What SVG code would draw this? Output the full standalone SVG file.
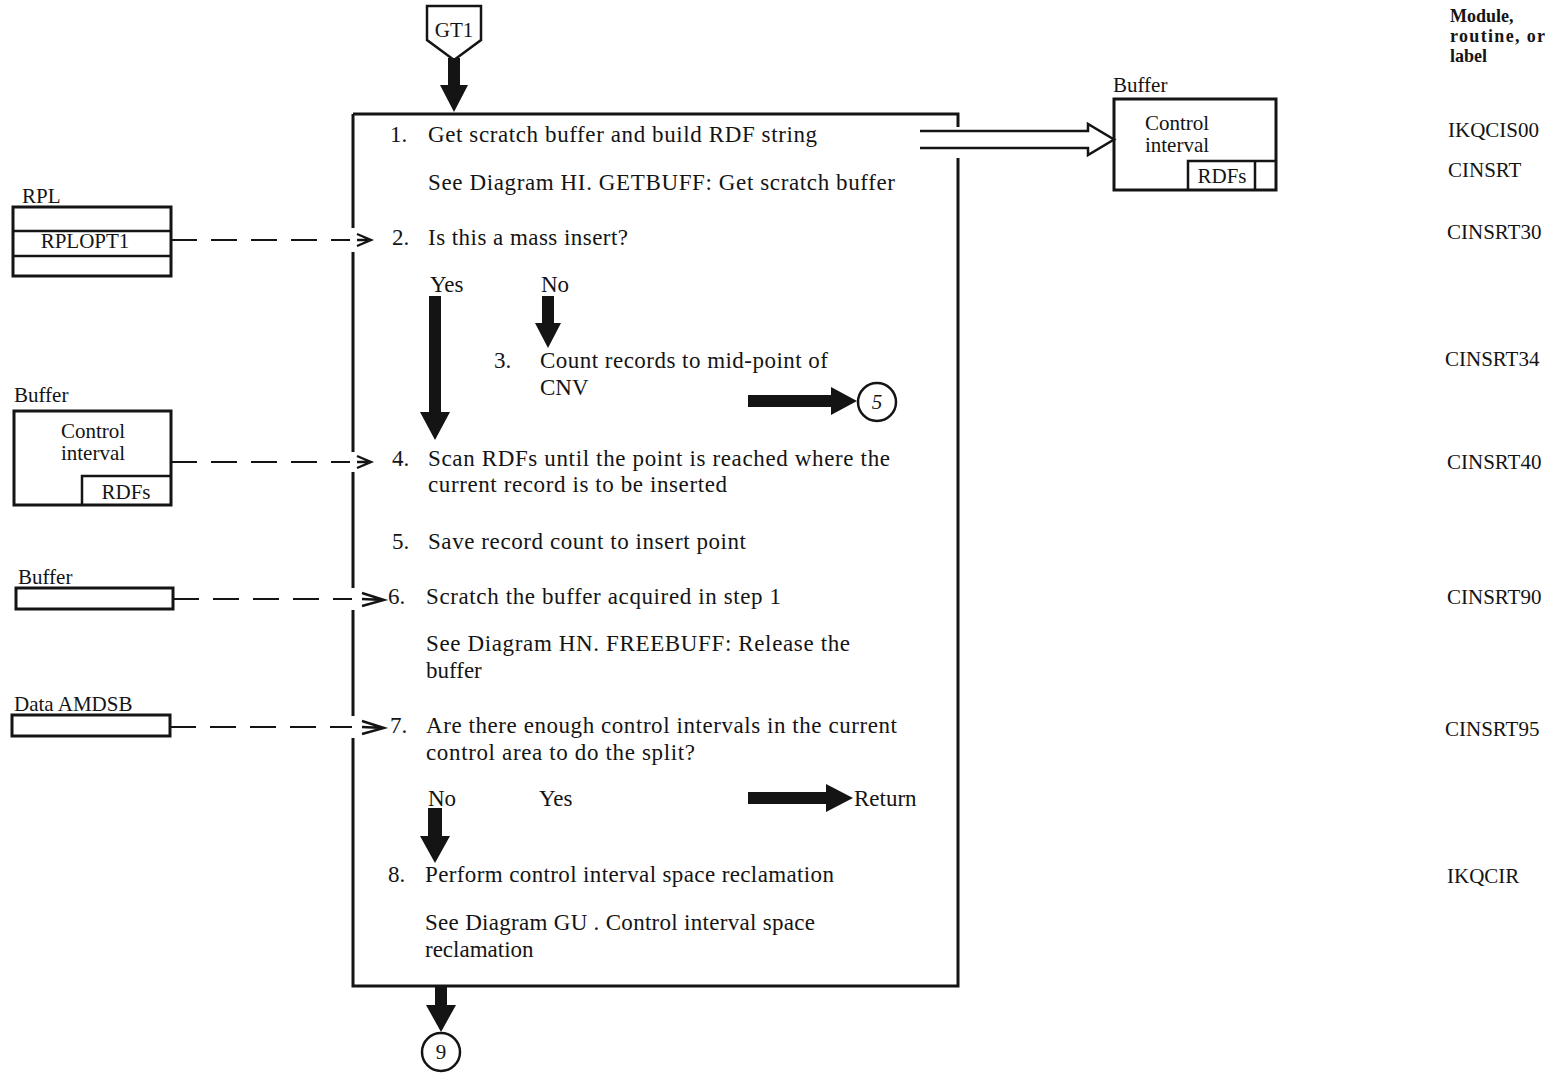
<svg xmlns="http://www.w3.org/2000/svg" width="1566" height="1073" viewBox="0 0 1566 1073">
  <style>
    .t{font-family:"Liberation Serif","Times New Roman",serif;font-size:23px;fill:#141414}
    .r{font-family:"Liberation Serif","Times New Roman",serif;font-size:21px;fill:#141414}
    .s{font-family:"Liberation Serif","Times New Roman",serif;font-size:21px;fill:#141414}
    .h{font-family:"Liberation Serif","Times New Roman",serif;font-size:18px;font-weight:bold;fill:#141414}
    .ln{fill:none;stroke:#141414;stroke-width:2.5}
    .bx{fill:none;stroke:#141414;stroke-width:3}
    .dash{fill:none;stroke:#141414;stroke-width:2;stroke-dasharray:26 14}
    .chev{fill:none;stroke:#141414;stroke-width:2.4;stroke-linejoin:miter}
    .fat{fill:#141414}
  </style>
  <rect width="1566" height="1073" fill="#ffffff"/>

  <!-- column heading -->
  <g id="heading">
    <text class="h" x="1450" y="22">Module,</text>
    <text class="h" x="1450" y="42" textLength="95" lengthAdjust="spacing">routine, or</text>
    <text class="h" x="1450" y="62">label</text>
  </g>

  <!-- module / label column -->
  <g id="labels" class="r">
    <text x="1448" y="137">IKQCIS00</text>
    <text x="1448" y="177">CINSRT</text>
    <text x="1447" y="239">CINSRT30</text>
    <text x="1445" y="366">CINSRT34</text>
    <text x="1447" y="469">CINSRT40</text>
    <text x="1447" y="604">CINSRT90</text>
    <text x="1445" y="736">CINSRT95</text>
    <text x="1447" y="883">IKQCIR</text>
  </g>

  <!-- entry connector GT1 -->
  <g id="gt1">
    <polygon class="ln" points="427,6 481,6 481,40 454,60 427,40"/>
    <text class="r" x="454" y="37" text-anchor="middle">GT1</text>
  </g>

  <!-- main process box -->
  <g id="process">
    <path class="bx" d="M353,114 H958 V127 M958,158 V986 H353 V738 M353,716 V610 M353,588 V472 M353,452 V252 M353,228 V114"/>
    <g class="t">
      <text x="390" y="142">1.</text>
      <text x="428" y="142" textLength="389" lengthAdjust="spacing">Get scratch buffer and build RDF string</text>
      <text x="428" y="190" textLength="467" lengthAdjust="spacing">See Diagram HI. GETBUFF: Get scratch buffer</text>
      <text x="392" y="245">2.</text>
      <text x="428" y="245" textLength="200" lengthAdjust="spacing">Is this a mass insert?</text>
      <text x="430" y="292">Yes</text>
      <text x="541" y="292">No</text>
      <text x="494" y="368">3.</text>
      <text x="540" y="368" textLength="288" lengthAdjust="spacing">Count records to mid-point of</text>
      <text x="540" y="395">CNV</text>
      <text x="392" y="466">4.</text>
      <text x="428" y="466" textLength="462" lengthAdjust="spacing">Scan RDFs until the point is reached where the</text>
      <text x="428" y="492" textLength="299" lengthAdjust="spacing">current record is to be inserted</text>
      <text x="392" y="549">5.</text>
      <text x="428" y="549" textLength="318" lengthAdjust="spacing">Save record count to insert point</text>
      <text x="388" y="604">6.</text>
      <text x="426" y="604" textLength="355" lengthAdjust="spacing">Scratch the buffer acquired in step 1</text>
      <text x="426" y="651" textLength="424" lengthAdjust="spacing">See Diagram HN. FREEBUFF: Release the</text>
      <text x="426" y="678">buffer</text>
      <text x="390" y="733">7.</text>
      <text x="426" y="733" textLength="471" lengthAdjust="spacing">Are there enough control intervals in the current</text>
      <text x="426" y="760" textLength="269" lengthAdjust="spacing">control area to do the split?</text>
      <text x="428" y="806">No</text>
      <text x="539" y="806">Yes</text>
      <text x="854" y="806">Return</text>
      <text x="388" y="882">8.</text>
      <text x="425" y="882" textLength="409" lengthAdjust="spacing">Perform control interval space reclamation</text>
      <text x="425" y="930" textLength="390" lengthAdjust="spacing">See Diagram GU . Control interval space</text>
      <text x="425" y="957">reclamation</text>
    </g>
  </g>

  <!-- off-page connectors -->
  <g id="conn5">
    <circle class="ln" cx="877" cy="402" r="19"/>
    <text class="r" x="877" y="409" text-anchor="middle" font-style="italic">5</text>
  </g>
  <g id="conn9">
    <circle class="ln" cx="441" cy="1052" r="19"/>
    <text class="r" x="441" y="1059" text-anchor="middle">9</text>
  </g>

  <!-- data areas -->
  <g id="buffer-out">
    <text class="s" x="1113" y="92">Buffer</text>
    <rect class="bx" x="1114" y="99" width="162" height="91"/>
    <text class="r" x="1177" y="130" text-anchor="middle">Control</text>
    <text class="r" x="1177" y="152" text-anchor="middle">interval</text>
    <path class="ln" d="M1188,190 V161 H1276 M1255,161 V190"/>
    <text class="r" x="1222" y="183" text-anchor="middle">RDFs</text>
  </g>
  <g id="rpl">
    <text class="s" x="22" y="203">RPL</text>
    <rect class="bx" x="13" y="207" width="158" height="69"/>
    <path class="ln" d="M13,231 H171 M13,256 H171"/>
    <text class="r" x="85" y="248" text-anchor="middle">RPLOPT1</text>
  </g>
  <g id="buffer-ci">
    <text class="s" x="14" y="402">Buffer</text>
    <rect class="bx" x="14" y="411" width="157" height="94"/>
    <text class="r" x="93" y="438" text-anchor="middle">Control</text>
    <text class="r" x="93" y="460" text-anchor="middle">interval</text>
    <path class="ln" d="M82,505 V476 H171"/>
    <text class="r" x="126" y="499" text-anchor="middle">RDFs</text>
  </g>
  <g id="buffer">
    <text class="s" x="18" y="584">Buffer</text>
    <rect class="bx" x="16" y="588" width="157" height="21"/>
  </g>
  <g id="amdsb">
    <text class="s" x="14" y="711">Data AMDSB</text>
    <rect class="bx" x="12" y="715" width="158" height="21"/>
  </g>

  <!-- connectors -->
  <g id="connectors">
    <!-- control flow -->
    <polygon class="fat" points="448,58 460,58 460,85 468,85 454,112 440,85 448,85"/>
    <polygon class="fat" points="429,296 441,296 441,412 450,412 435,440 420,412 429,412"/>
    <polygon class="fat" points="542,296 554,296 554,323 561,323 548,348 535,323 542,323"/>
    <polygon class="fat" points="748,395 831,395 831,387 857,401 831,415 831,407 748,407"/>
    <polygon class="fat" points="748,792 826,792 826,784 853,798 826,812 826,804 748,804"/>
    <polygon class="fat" points="428,808 442,808 442,836 450,836 435,863 420,836 428,836"/>
    <polygon class="fat" points="435,986 447,986 447,1005 456,1005 441,1032 426,1005 435,1005"/>
    <!-- data movement to output buffer -->
    <path class="ln" d="M920,131 H1088 V124 L1114,139.5 L1088,155 V148 H920"/>
    <!-- data references -->
    <path class="dash" d="M171,240 H350"/>
    <path class="chev" d="M357,234 L371,240 L357,246 M357,240 H368"/>
    <path class="dash" d="M171,462 H350"/>
    <path class="chev" d="M357,456 L371,462 L357,468 M357,462 H368"/>
    <path class="dash" d="M173,599 H352"/>
    <path class="chev" d="M362,593 L384,600 L362,606 M362,599 L384,600"/>
    <path class="dash" d="M170,727 H352"/>
    <path class="chev" d="M362,721 L384,728 L362,734 M362,727 L384,728"/>
  </g>
</svg>
